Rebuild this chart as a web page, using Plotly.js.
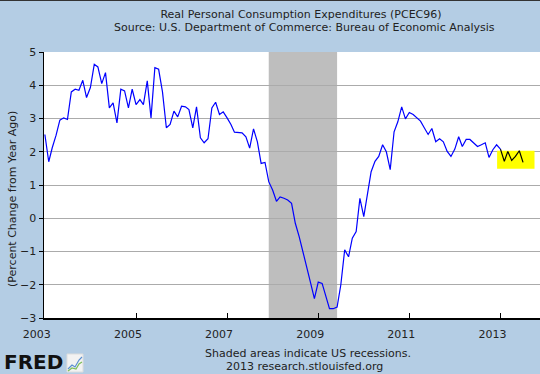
<!DOCTYPE html>
<html>
<head>
<meta charset="utf-8">
<script src="https://cdn.plot.ly/plotly-3.0.1.min.js"></script>
<style>html,body{margin:0;padding:0;background:#B4CDE4;}#chart{width:540px;height:374px;}</style>
</head>
<body>
<div id="chart"></div>
<script>
// Monthly values, percent change from year ago, starting Jan 2003
const startYear = 2003;
const values2003 = [2.52, 1.70, 2.12, 2.50, 2.95, 3.02, 2.97, 3.80, 3.88, 3.85, 4.15, 3.63];
const values2004 = [3.93, 4.63, 4.55, 4.05, 4.38, 3.32, 3.47, 2.87, 3.88, 3.83, 3.32, 3.88];
const values2005 = [3.42, 3.57, 3.42, 4.13, 3.02, 4.53, 4.48, 3.80, 2.72, 2.82, 3.22, 3.05];
const values2006 = [3.37, 3.35, 3.27, 2.72, 3.35, 2.42, 2.27, 2.39, 3.32, 3.49, 3.12, 3.20];
const values2007 = [3.02, 2.82, 2.59, 2.59, 2.57, 2.45, 2.11, 2.69, 2.30, 1.65, 1.68, 1.10];
const values2008 = [0.85, 0.51, 0.64, 0.60, 0.55, 0.45, -0.15, -0.55, -1.00, -1.50, -1.95, -2.42];
const values2009 = [-1.92, -1.96, -2.32, -2.72, -2.72, -2.67, -2.00, -0.95, -1.16, -0.60, -0.40, 0.60];
const values2010 = [0.05, 0.70, 1.40, 1.71, 1.86, 2.21, 2.00, 1.46, 2.60, 2.90, 3.35, 2.99];
const values2011 = [3.18, 3.12, 3.03, 2.92, 2.72, 2.52, 2.70, 2.30, 2.39, 2.30, 2.01, 1.86];
const values2012 = [2.08, 2.45, 2.16, 2.37, 2.37, 2.25, 2.16, 2.21, 2.27, 1.83, 2.06, 2.21];
const values2013 = [2.08, 1.71, 2.01, 1.74, 1.86, 2.03, 1.68];

const recessionStart = ['2007-12-01'];
const recessionEnd = ['2009-06-01'];
const highlightStart = '2012-12-05';
const highlightEnd = '2013-10-01';
const highlightLow = 1.49;
const highlightHigh = 2.03;

const tickVals = ['2003-01-01','2005-01-01','2007-01-01','2009-01-01','2011-01-01','2013-01-01'];
const tickText = ['2003','2005','2007','2009','2011','2013'];
const yTicks = [-3,-2,-1,0,1,2,3,4,5];

const values = [].concat(values2003, values2004, values2005, values2006, values2007, values2008,
  values2009, values2010, values2011, values2012, values2013);
const dates = values.map((v, i) => {
  const y = startYear + Math.floor(i / 12);
  const m = (i % 12) + 1;
  return y + '-' + (m < 10 ? '0' + m : m) + '-01';
});
const splitIdx = 120; // highlighted (black) segment starts here

const font = 'DejaVu Sans, Verdana, sans-serif';

const traces = [
  {x: dates.slice(0, splitIdx + 1), y: values.slice(0, splitIdx + 1), type: 'scatter', mode: 'lines',
   line: {color: '#0000FF', width: 1.2}, hoverinfo: 'skip'},
  {x: dates.slice(splitIdx), y: values.slice(splitIdx), type: 'scatter', mode: 'lines',
   line: {color: '#000000', width: 1.2}, hoverinfo: 'skip'}
];

function px2x(p) { return (p - 44) / 496; }
function px2y(p) { return (318 - p) / 266; }

const shapes = [];
for (let i = 0; i < recessionStart.length; i++) {
  shapes.push({type: 'rect', xref: 'x', yref: 'paper', x0: recessionStart[i], x1: recessionEnd[i],
    y0: 0, y1: 1, fillcolor: '#BEBEBE', line: {width: 0}, layer: 'between'});
}
shapes.push({type: 'rect', xref: 'x', yref: 'y', x0: highlightStart, x1: highlightEnd,
  y0: highlightLow, y1: highlightHigh, fillcolor: '#FFFF00', line: {width: 0}, layer: 'between'});
// top border line of image
shapes.push({type: 'line', xref: 'paper', yref: 'paper', x0: px2x(0), x1: px2x(540), y0: px2y(0.5), y1: px2y(0.5),
  line: {color: '#333333', width: 1}});
// FRED logo icon
shapes.push({type: 'rect', xref: 'paper', yref: 'paper', x0: px2x(67), x1: px2x(83), y0: px2y(372), y1: px2y(354),
  fillcolor: '#F2F2F2', line: {color: '#DDDDDD', width: 1}});
shapes.push({type: 'path', xref: 'paper', yref: 'paper',
  path: 'M' + px2x(68) + ',' + px2y(369) + ' L' + px2x(72) + ',' + px2y(365) + ' L' + px2x(75) + ',' + px2y(367) +
        ' L' + px2x(79) + ',' + px2y(360) + ' L' + px2x(82) + ',' + px2y(357),
  line: {color: '#5A8FD0', width: 1.2}});
shapes.push({type: 'path', xref: 'paper', yref: 'paper',
  path: 'M' + px2x(68) + ',' + px2y(371) + ' L' + px2x(72) + ',' + px2y(368) + ' L' + px2x(76) + ',' + px2y(369) +
        ' L' + px2x(79) + ',' + px2y(364) + ' L' + px2x(82) + ',' + px2y(362),
  line: {color: '#7DBE5A', width: 1.2}});

const annotations = [
  {text: 'Source: U.S. Department of Commerce: Bureau of Economic Analysis', xref: 'paper', yref: 'paper',
   x: px2x(304), y: px2y(27), xanchor: 'center', yanchor: 'middle', showarrow: false, borderpad: 0,
   font: {family: font, size: 11, color: '#222222'}},
  {text: '(Percent Change from Year Ago)', xref: 'paper', yref: 'paper', textangle: -90,
   x: px2x(13), y: px2y(199), xanchor: 'center', yanchor: 'middle', showarrow: false,
   font: {family: font, size: 11, color: '#222222'}},
  {text: 'Shaded areas indicate US recessions.', xref: 'paper', yref: 'paper',
   x: px2x(308), y: px2y(353), xanchor: 'center', yanchor: 'middle', showarrow: false, borderpad: 0,
   font: {family: font, size: 11, color: '#222222'}},
  {text: '2013 research.stlouisfed.org', xref: 'paper', yref: 'paper',
   x: px2x(304), y: px2y(366), xanchor: 'center', yanchor: 'middle', showarrow: false, borderpad: 0,
   font: {family: font, size: 11, color: '#222222'}},
  {text: '<b>FRED</b>', xref: 'paper', yref: 'paper',
   x: px2x(3), y: px2y(362), xanchor: 'left', yanchor: 'middle', showarrow: false, borderpad: 0,
   font: {family: 'DejaVu Sans, sans-serif', size: 20, color: '#111111'}}
];

const layout = {
  width: 540, height: 374,
  margin: {l: 44, r: 0, t: 52, b: 56, pad: 0},
  paper_bgcolor: '#B4CDE4',
  plot_bgcolor: '#FFFFFF',
  showlegend: false,
  title: {text: 'Real Personal Consumption Expenditures (PCEC96)', xref: 'container', yref: 'container',
    x: 301 / 540, y: 1 - 14 / 374, xanchor: 'center', yanchor: 'middle',
    font: {family: font, size: 11, color: '#222222'}},
  xaxis: {type: 'date', range: ['2002-12-25', '2013-11-14'], tickvals: tickVals, ticktext: tickText,
    showgrid: false, zeroline: false, showline: true, linecolor: '#000000', linewidth: 1.5,
    ticks: 'inside', ticklen: 5, tickcolor: '#000000', tickwidth: 1, ticklabelshift: -8,
    ticklabelstandoff: 5,
    tickfont: {family: font, size: 11, color: '#222222'}, fixedrange: true},
  yaxis: {range: [-3, 5], tickvals: yTicks, showgrid: true, gridcolor: '#ABABAB', gridwidth: 1,
    zeroline: false, showline: true, linecolor: '#000000', linewidth: 1.5,
    ticks: 'outside', ticklen: 4, tickcolor: '#000000', tickwidth: 1,
    tickfont: {family: font, size: 11, color: '#222222'}, fixedrange: true},
  shapes: shapes,
  annotations: annotations
};

Plotly.newPlot('chart', traces, layout, {staticPlot: true, displayModeBar: false});
</script>
</body>
</html>
